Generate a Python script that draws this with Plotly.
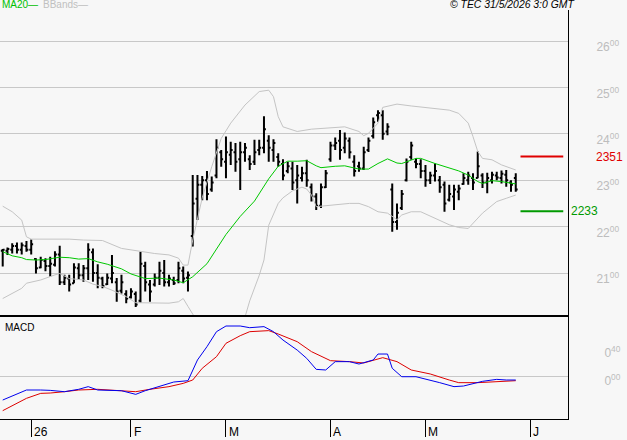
import pandas as pd
import plotly.graph_objects as go

# ---------------- data ----------------
holidays = ["2025-12-25", "2025-12-26", "2026-01-01", "2026-04-03", "2026-04-06", "2026-05-01"]
dates = pd.bdate_range("2025-12-22", "2026-05-29", freq="C", holidays=holidays)

high = [2152, 2155, 2164, 2166, 2166, 2169, 2172, 2132, 2135, 2132, 2135, 2147, 2159, 2096, 2096, 2121, 2121, 2117, 2164, 2153,
        2119, 2092, 2099, 2139, 2089, 2096, 2063, 2067, 2060, 2146, 2124, 2085, 2099, 2124, 2128, 2096, 2092, 2124, 2114, 2103,
        2311, 2311, 2309, 2320, 2308, 2388, 2365, 2394, 2383, 2380, 2383, 2380, 2354, 2387, 2387, 2438, 2397, 2388, 2358, 2345,
        2340, 2340, 2333, 2329, 2344, 2293, 2272, 2293, 2322, 2383, 2392, 2408, 2403, 2392, 2354, 2340, 2372, 2392, 2435, 2451,
        2451, 2423, 2293, 2250, 2279, 2347, 2383, 2347, 2345, 2333, 2318, 2336, 2309, 2297, 2290, 2290, 2290, 2315, 2318, 2315,
        2362, 2315, 2316, 2318, 2318, 2321, 2322, 2300, 2315]
low = [2114, 2139, 2142, 2142, 2140, 2146, 2140, 2099, 2110, 2104, 2092, 2114, 2074, 2074, 2060, 2078, 2085, 2081, 2085, 2081,
       2067, 2067, 2074, 2078, 2038, 2056, 2035, 2045, 2027, 2036, 2060, 2038, 2071, 2074, 2071, 2071, 2074, 2078, 2078, 2060,
       2157, 2214, 2257, 2257, 2275, 2304, 2329, 2304, 2333, 2318, 2279, 2340, 2322, 2333, 2354, 2358, 2340, 2340, 2329, 2300,
       2315, 2279, 2250, 2297, 2286, 2254, 2236, 2240, 2283, 2340, 2365, 2344, 2358, 2347, 2308, 2318, 2322, 2361, 2390, 2426,
       2387, 2397, 2189, 2193, 2236, 2297, 2344, 2326, 2304, 2286, 2292, 2297, 2273, 2232, 2254, 2236, 2257, 2290, 2290, 2279,
       2304, 2283, 2272, 2293, 2300, 2293, 2286, 2275, 2275]
open_ = [2148, 2148, 2150, 2158, 2150, 2158, 2150, 2130, 2112, 2126, 2115, 2118, 2140, 2080, 2088, 2078, 2110, 2095, 2110, 2145,
         2100, 2088, 2076, 2088, 2080, 2062, 2055, 2048, 2055, 2040, 2115, 2075, 2075, 2090, 2100, 2080, 2085, 2085, 2105, 2090,
         2180, 2260, 2290, 2300, 2280, 2310, 2360, 2340, 2355, 2360, 2345, 2360, 2345, 2340, 2365, 2370, 2385, 2365, 2350, 2335,
         2320, 2325, 2300, 2305, 2315, 2285, 2265, 2245, 2285, 2345, 2375, 2385, 2370, 2385, 2340, 2330, 2325, 2365, 2395, 2440,
         2440, 2405, 2280, 2210, 2240, 2300, 2350, 2340, 2335, 2320, 2300, 2310, 2300, 2290, 2258, 2265, 2275, 2292, 2300, 2305,
         2305, 2310, 2295, 2300, 2310, 2305, 2312, 2295, 2305]
close = [2150, 2152, 2158, 2150, 2160, 2150, 2162, 2110, 2128, 2115, 2120, 2140, 2080, 2090, 2075, 2112, 2095, 2110, 2150, 2100,
         2090, 2072, 2090, 2100, 2060, 2080, 2045, 2060, 2032, 2120, 2080, 2060, 2090, 2105, 2080, 2088, 2078, 2110, 2088, 2095,
         2250, 2290, 2300, 2270, 2295, 2370, 2345, 2360, 2365, 2340, 2360, 2370, 2335, 2360, 2370, 2410, 2370, 2380, 2340, 2310,
         2330, 2295, 2310, 2315, 2300, 2265, 2245, 2285, 2315, 2375, 2380, 2365, 2390, 2360, 2320, 2325, 2360, 2385, 2425, 2445,
         2400, 2415, 2210, 2230, 2270, 2340, 2375, 2335, 2320, 2300, 2310, 2320, 2285, 2250, 2270, 2280, 2282, 2305, 2310, 2295,
         2330, 2295, 2305, 2312, 2306, 2314, 2300, 2290, 2280]

# moving average 20 (sampled at bar numbers)
ma_idx = [0, 2, 4, 5, 7, 9, 12, 14, 16, 18, 20, 22, 25, 27, 30, 33, 36, 38, 40, 43, 47, 50, 53, 56, 58, 60, 62, 64, 66, 67,
          70, 72, 75, 77, 79, 81, 83, 84, 87, 88, 91, 94, 96, 98, 100, 101, 103, 105, 108]
ma_val = [2146, 2137, 2133, 2129, 2128, 2129, 2134, 2133, 2130, 2131, 2124, 2119, 2109, 2098, 2088, 2089, 2085, 2079, 2092, 2120,
          2183, 2222, 2255, 2303, 2330, 2341, 2341, 2342, 2331, 2327, 2330, 2331, 2324, 2324, 2336, 2346, 2337, 2336, 2347, 2347,
          2336, 2326, 2320, 2311, 2297, 2293, 2299, 2297, 2292]

# Bollinger bands
up_idx = [0, 2, 4, 5, 6, 10, 14, 17, 21, 25, 29, 32, 35, 37, 38, 39, 40, 42, 44, 46, 48, 51, 54, 56, 57, 58, 59, 62, 65, 70,
          72, 75, 76, 77, 79, 80, 83, 86, 90, 94, 96, 98, 99, 100, 101, 103, 105, 108]
up_val = [2244, 2232, 2214, 2178, 2173, 2173, 2173, 2171, 2170, 2153, 2146, 2142, 2139, 2132, 2117, 2117, 2171, 2262, 2329, 2390,
          2423, 2462, 2491, 2494, 2480, 2437, 2415, 2405, 2410, 2413, 2415, 2405, 2396, 2401, 2423, 2457, 2464, 2460, 2455, 2451,
          2444, 2423, 2394, 2362, 2347, 2344, 2333, 2322]
lo_idx = [0, 2, 4, 5, 8, 11, 12, 14, 17, 19, 21, 23, 26, 28, 31, 35, 37, 38, 39, 40, 41, 44, 47, 50, 51, 52, 54, 55, 56, 58,
          59, 61, 63, 64, 65, 66, 70, 73, 75, 77, 79, 81, 83, 84, 86, 88, 91, 94, 96, 98, 101, 104, 106, 108]
lo_val = [2045, 2056, 2067, 2078, 2085, 2096, 2099, 2088, 2085, 2076, 2071, 2063, 2049, 2036, 2035, 2035, 2038, 2045, 2028, 2013,
          1995, 1960, 1950, 1985, 2005, 2040, 2095, 2128, 2203, 2250, 2262, 2277, 2285, 2281, 2268, 2243, 2247, 2250, 2250, 2243,
          2232, 2229, 2215, 2225, 2232, 2232, 2218, 2204, 2198, 2196, 2229, 2254, 2261, 2268]

# MACD and signal
macd_idx = [0, 2, 5, 8, 10, 13, 16, 18, 20, 25, 28, 30, 33, 36, 39, 40, 41, 43, 45, 47, 50, 52, 55, 57, 59, 62, 64, 66, 68, 70,
            73, 75, 78, 79, 81, 82, 84, 87, 90, 92, 95, 97, 101, 104, 106, 108]
macd_val = [-34.3, -28.6, -20, -20, -20.5, -22.4, -19, -15.2, -20, -21, -26.2, -21, -14.3, -8.6, -6.7, 8.6, 22.9, 41.9, 63.3,
            71.4, 71.4, 69, 70.5, 63.3, 51.4, 37, 25.2, 9.5, 8.6, 20.5, 20.5, 17.1, 22.9, 31.4, 31.4, 11, -1, -1, -5.7, -9.5,
            -15.2, -14.3, -7.6, -4.8, -5.7, -5.7]
sig_idx = [0, 3, 5, 8, 10, 13, 16, 20, 25, 28, 31, 35, 38, 40, 42, 45, 47, 50, 52, 56, 58, 62, 65, 69, 73, 76, 80, 83, 86, 90,
           94, 96, 100, 103, 106, 108]
sig_val = [-49.5, -39, -31.9, -24.8, -24.3, -22.4, -20, -19, -21, -22.4, -19, -15.2, -10.5, -5.7, 11, 27.6, 46.7, 57.6, 63.3,
           64.8, 60, 49, 34.8, 21.9, 20.5, 18.6, 26.2, 20.5, 8.6, 2.9, -5.7, -9.5, -9.5, -8.1, -6.7, -6.7]

level_hi = 2351
level_lo = 2233

month_labels = ["26", "F", "M", "A", "M", "J"]
price_ticks = [2100, 2200, 2300, 2400, 2500, 2600]
macd_ticks = [0, 40]

# ---------------- figure ----------------
n = len(dates)
xi = list(range(n))
month_pos = [i for i in range(n) if i == 0 or dates[i].month != dates[i - 1].month][1:]
month_pos.append(n + 2)

FONT = "Liberation Sans, Arial, sans-serif"
GRID = "#c8c8c8"
BG = "#f7f7f7"
LBL = "#bdbdbd"

fig = go.Figure()
fig.add_trace(go.Scatter(x=up_idx, y=up_val, mode="lines", line=dict(color="#c4c4c4", width=1), hoverinfo="skip"))
fig.add_trace(go.Scatter(x=lo_idx, y=lo_val, mode="lines", line=dict(color="#c4c4c4", width=1), hoverinfo="skip"))
fig.add_trace(go.Scatter(x=ma_idx, y=ma_val, mode="lines", line=dict(color="#00c800", width=1), hoverinfo="skip"))
fig.add_trace(go.Ohlc(x=xi, open=open_, high=high, low=low, close=close, tickwidth=0.4,
                      increasing=dict(line=dict(color="black", width=2)),
                      decreasing=dict(line=dict(color="black", width=2)), hoverinfo="skip"))
fig.add_trace(go.Scatter(x=[n, n + 9], y=[level_hi, level_hi], mode="lines", line=dict(color="#e00000", width=2)))
fig.add_trace(go.Scatter(x=[n, n + 9], y=[level_lo, level_lo], mode="lines", line=dict(color="#009a00", width=2)))

fig.add_trace(go.Scatter(x=sig_idx, y=sig_val, mode="lines", line=dict(color="#dd0000", width=1), xaxis="x2", yaxis="y2"))
fig.add_trace(go.Scatter(x=macd_idx, y=macd_val, mode="lines", line=dict(color="#0000ee", width=1), xaxis="x2", yaxis="y2"))

xr = [-0.57, 119.0]
xdom = [0, 568 / 627]
fig.update_layout(
    width=627, height=440, autosize=False,
    margin=dict(l=0, r=0, t=0, b=0, pad=0),
    paper_bgcolor=BG, plot_bgcolor=BG,
    showlegend=False,
    font=dict(family=FONT, size=12, color="black"),
    xaxis=dict(domain=xdom, range=xr, anchor="y", showgrid=False, zeroline=False,
               showline=True, linecolor="black", linewidth=2, ticks="", showticklabels=False,
               rangeslider=dict(visible=False), fixedrange=True),
    yaxis=dict(domain=[(440 - 315) / 440, (440 - 10) / 440], range=[2009.5, 2666.8], side="right", anchor="x",
               tickvals=price_ticks,
               ticktext=[f"{str(v)[:2]}<sup>{str(v)[2:]}</sup>" for v in price_ticks],
               showgrid=True, gridcolor=GRID, gridwidth=1, zeroline=False,
               showline=True, linecolor="black", linewidth=1, ticks="",
               tickfont=dict(color=LBL, size=12, family=FONT),
               ticklabelstandoff=25, ticklabelshift=6),
    xaxis2=dict(domain=xdom, range=xr, anchor="y2", matches="x", showgrid=False, zeroline=False,
                showline=True, linecolor="black", linewidth=1,
                ticks="outside", ticklen=17, tickcolor="black", tickwidth=1,
                tickvals=month_pos, showticklabels=False),
    yaxis2=dict(domain=[(440 - 419) / 440, (440 - 316) / 440], range=[-61.4, 85.7], side="right", anchor="x2",
                tickvals=macd_ticks,
                ticktext=[f"0<sup>{v:02d}</sup>" for v in macd_ticks],
                showgrid=False, zeroline=True, zerolinecolor=GRID, zerolinewidth=1,
                showline=True, linecolor="black", linewidth=1, ticks="",
                tickfont=dict(color=LBL, size=12, family=FONT),
                ticklabelstandoff=33, ticklabelshift=5),
)

ann = []
for pos, lab in zip(month_pos, month_labels):
    ann.append(dict(x=pos, xref="x2", y=8 / 440, yref="paper", text=lab, showarrow=False,
                    xanchor="left", yanchor="middle", xshift=1, font=dict(size=12, color="black", family=FONT)))
ann.append(dict(x=0, xref="paper", y=(440 - 5) / 440, yref="paper", text="MA20—", showarrow=False,
                xanchor="left", yanchor="middle", font=dict(size=10, color="#00c000", family=FONT)))
ann.append(dict(x=41 / 627, xref="paper", y=(440 - 5) / 440, yref="paper", text="BBands—", showarrow=False,
                xanchor="left", yanchor="middle", font=dict(size=10, color="#c0c0c0", family=FONT)))
ann.append(dict(x=576 / 627, xref="paper", y=(440 - 5) / 440, yref="paper", text="<i>© TEC 31/5/2026 3:0 GMT</i>",
                showarrow=False, xanchor="right", yanchor="middle", font=dict(size=10.4, color="black", family=FONT)))
ann.append(dict(x=3 / 627, xref="paper", y=(440 - 327) / 440, yref="paper", text="MACD", showarrow=False,
                xanchor="left", yanchor="middle", font=dict(size=10, color="black", family=FONT)))
ann.append(dict(x=594 / 627, xref="paper", y=level_hi, yref="y", text=str(level_hi), showarrow=False,
                xanchor="left", yanchor="middle", font=dict(size=12, color="#e00000", family=FONT)))
ann.append(dict(x=569 / 627, xref="paper", y=level_lo, yref="y", text=str(level_lo), showarrow=False,
                xanchor="left", yanchor="middle", font=dict(size=12, color="#009a00", family=FONT)))
fig.update_layout(annotations=ann)

fig.write_html("out.html")
